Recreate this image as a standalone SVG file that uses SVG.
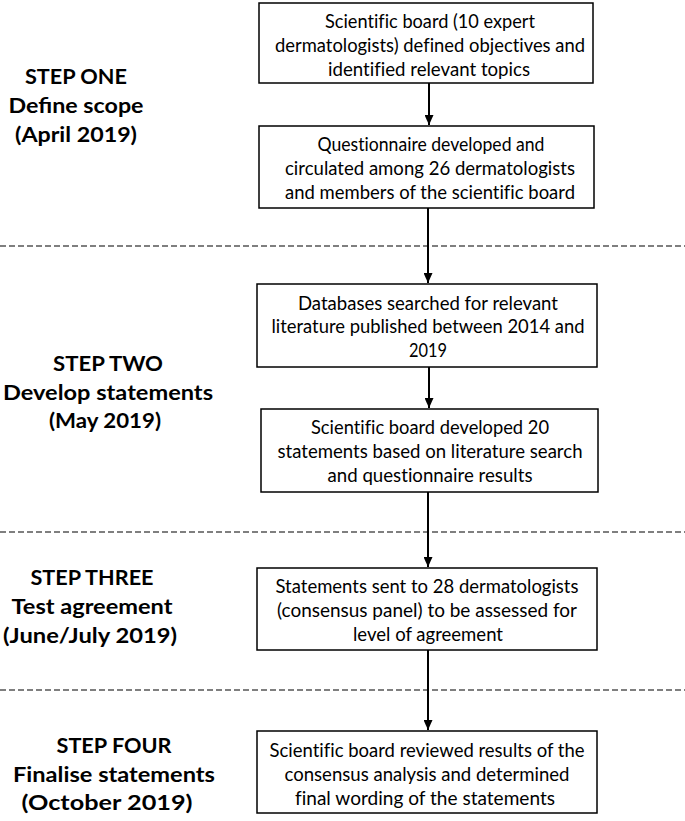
<svg xmlns="http://www.w3.org/2000/svg" width="685" height="821" viewBox="0 0 685 821">
<style>
.box{fill:#fff;stroke:#000;stroke-width:1.5}
.bt{font-family:Lato,"Liberation Sans",sans-serif;font-size:18.5px;fill:#000;text-anchor:middle;font-variant-ligatures:none}
.lt{font-family:Lato,"Liberation Sans",sans-serif;font-size:21px;font-weight:bold;fill:#000;text-anchor:middle}
.con{stroke:#000;stroke-width:2;fill:none;marker-end:url(#ah)}
.dash{stroke:#000;stroke-width:1.2;stroke-dasharray:6 3;fill:none}
</style>
<defs>
<marker id="ah" viewBox="0 0 10 10" refX="10" refY="5" markerWidth="5" markerHeight="4.5" orient="auto" markerUnits="strokeWidth" preserveAspectRatio="none">
<path d="M0,0 L10,5 L0,10 z" fill="#000"/>
</marker>
</defs>
<g id="dividers">
<line class="dash" x1="0" y1="246" x2="685" y2="246"/>
<line class="dash" x1="0" y1="532" x2="685" y2="532"/>
<line class="dash" x1="0" y1="690" x2="685" y2="690"/>
</g>
<g id="label1">
<text class="lt" x="76" y="84" textLength="102" lengthAdjust="spacingAndGlyphs">STEP ONE</text>
<text class="lt" x="76" y="113" textLength="135" lengthAdjust="spacingAndGlyphs">Define scope</text>
<text class="lt" x="76" y="142" textLength="122" lengthAdjust="spacingAndGlyphs">(April 2019)</text>
</g>
<g id="label2">
<text class="lt" x="108" y="371" textLength="110" lengthAdjust="spacingAndGlyphs">STEP TWO</text>
<text class="lt" x="108" y="400" textLength="210" lengthAdjust="spacingAndGlyphs">Develop statements</text>
<text class="lt" x="105" y="428" textLength="112" lengthAdjust="spacingAndGlyphs">(May 2019)</text>
</g>
<g id="label3">
<text class="lt" x="92" y="585" textLength="123" lengthAdjust="spacingAndGlyphs">STEP THREE</text>
<text class="lt" x="92" y="614" textLength="161" lengthAdjust="spacingAndGlyphs">Test agreement</text>
<text class="lt" x="90" y="643" textLength="174" lengthAdjust="spacingAndGlyphs">(June/July 2019)</text>
</g>
<g id="label4">
<text class="lt" x="114" y="753" textLength="115" lengthAdjust="spacingAndGlyphs">STEP FOUR</text>
<text class="lt" x="114" y="782" textLength="202" lengthAdjust="spacingAndGlyphs">Finalise statements</text>
<text class="lt" x="107" y="810" textLength="171" lengthAdjust="spacingAndGlyphs">(October 2019)</text>
</g>
<g id="box1">
<rect class="box" x="259" y="3" width="334" height="80"/>
<text class="bt" x="430" y="28" textLength="210" lengthAdjust="spacingAndGlyphs">Scientific board (10 expert</text>
<text class="bt" x="430" y="52" textLength="310" lengthAdjust="spacingAndGlyphs">dermatologists) defined objectives and</text>
<text class="bt" x="429" y="76" textLength="202" lengthAdjust="spacingAndGlyphs">identified relevant topics</text>
</g>
<g id="box2">
<rect class="box" x="259" y="126" width="335" height="82"/>
<text class="bt" x="431" y="151" textLength="227" lengthAdjust="spacingAndGlyphs">Questionnaire developed and</text>
<text class="bt" x="430" y="175" textLength="290" lengthAdjust="spacingAndGlyphs">circulated among 26 dermatologists</text>
<text class="bt" x="430" y="199" textLength="290" lengthAdjust="spacingAndGlyphs">and members of the scientific board</text>
</g>
<g id="box3">
<rect class="box" x="257" y="284" width="340" height="83"/>
<text class="bt" x="428" y="310" textLength="260" lengthAdjust="spacingAndGlyphs">Databases searched for relevant</text>
<text class="bt" x="428" y="333" textLength="313" lengthAdjust="spacingAndGlyphs">literature published between 2014 and</text>
<text class="bt" x="428" y="357" textLength="38" lengthAdjust="spacingAndGlyphs">2019</text>
</g>
<g id="box4">
<rect class="box" x="261" y="409" width="337" height="83"/>
<text class="bt" x="430" y="434" textLength="238" lengthAdjust="spacingAndGlyphs">Scientific board developed 20</text>
<text class="bt" x="430" y="458" textLength="305" lengthAdjust="spacingAndGlyphs">statements based on literature search</text>
<text class="bt" x="430" y="482" textLength="205" lengthAdjust="spacingAndGlyphs">and questionnaire results</text>
</g>
<g id="box5">
<rect class="box" x="257" y="568" width="340" height="82"/>
<text class="bt" x="427" y="593" textLength="303" lengthAdjust="spacingAndGlyphs">Statements sent to 28 dermatologists</text>
<text class="bt" x="427" y="617" textLength="300" lengthAdjust="spacingAndGlyphs">(consensus panel)  to be assessed for</text>
<text class="bt" x="428" y="641" textLength="150" lengthAdjust="spacingAndGlyphs">level of agreement</text>
</g>
<g id="box6">
<rect class="box" x="257" y="731" width="340" height="82"/>
<text class="bt" x="427" y="757" textLength="315" lengthAdjust="spacingAndGlyphs">Scientific board reviewed results of the</text>
<text class="bt" x="427" y="781" textLength="285" lengthAdjust="spacingAndGlyphs">consensus analysis and determined</text>
<text class="bt" x="425" y="805" textLength="260" lengthAdjust="spacingAndGlyphs">final wording of the statements</text>
</g>
<g id="connectors">
<line class="con" x1="429" y1="83" x2="429" y2="125"/>
<line class="con" x1="428" y1="208" x2="428" y2="283"/>
<line class="con" x1="429" y1="367" x2="429" y2="408"/>
<line class="con" x1="428" y1="492" x2="428" y2="567"/>
<line class="con" x1="428" y1="650" x2="428" y2="730"/>
</g>
</svg>
